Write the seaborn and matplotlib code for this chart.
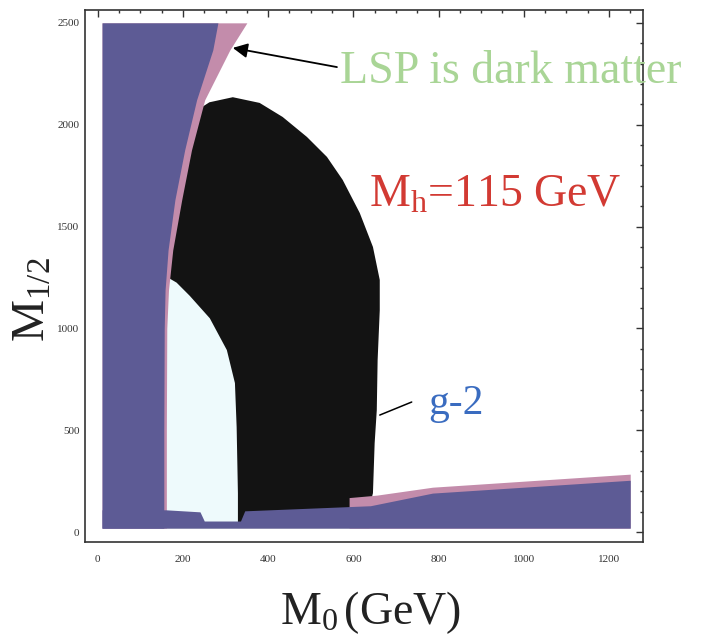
import matplotlib
matplotlib.use("Agg")
import matplotlib.pyplot as plt
from matplotlib.ticker import MultipleLocator
import seaborn as sns

# ---- scan domain (GeV) ----
m0_range = [10, 1250]
m12_range = [20, 2500]

# ---- excluded wedge at low M0 (purple) and the dark-matter strip beside it (pink) ----
edge_m12 = [20, 500, 1000, 1189, 1385, 1631, 1876, 2122, 2367, 2500]
purple_edge_m0 = [155, 155, 156, 158, 165, 181, 204, 232, 270, 282]
pink_edge_m0 = [161, 161, 162, 166, 176, 197, 220, 251, 310, 350]

# ---- g-2 favoured region (black), outline traced clockwise ----
g2_m0 = [150, 150, 190, 225, 262, 317, 380, 434, 491, 538, 575, 615, 646, 662,
         662, 657, 655, 650, 646, 638, 638]
g2_m12 = [20, 1700, 1950, 2060, 2110, 2135, 2107, 2038, 1940, 1842, 1729, 1567,
          1400, 1238, 1090, 845, 599, 437, 192, 123, 20]

# ---- light region below the Higgs-mass bound ----
mh_m0 = [150, 150, 167, 185, 216, 263, 303, 322, 326, 329, 329]
mh_m12 = [20, 1240, 1247, 1225, 1160, 1050, 894, 732, 516, 191, 20]

# ---- excluded band at small M1/2 (purple) with dark-matter edge (pink) ----
band_m0 = [10, 160, 240, 250, 335, 345, 640, 786, 1250]
band_top = [110, 110, 100, 55, 55, 105, 130, 192, 255]
strip_m0 = [590, 655, 786, 1250]
strip_top = [170, 182, 221, 285]

# ---- axis ticks ----
x_ticks = [0, 200, 400, 600, 800, 1000, 1200]
y_ticks = [0, 500, 1000, 1500, 2000, 2500]

PURPLE = "#5d5b95"
PINK = "#c38cab"
BLACK = "#131313"
LIGHT = "#eefafc"

sns.set_theme(style="white")
plt.rcParams["font.family"] = ["Liberation Serif", "DejaVu Serif"]
plt.rcParams["mathtext.fontset"] = "custom"
plt.rcParams["mathtext.rm"] = "Liberation Serif"
plt.rcParams["mathtext.it"] = "Liberation Serif:italic"

fig = plt.figure(figsize=(7.1, 6.43), dpi=100)
ax = fig.add_axes([85 / 710, 1 - 542 / 643, (643 - 85) / 710, (542 - 10) / 643])

ax.fill(g2_m0, g2_m12, color=BLACK, lw=0, zorder=1)
ax.fill(mh_m0, mh_m12, color=LIGHT, lw=0, zorder=2)
ax.fill_between(strip_m0, m12_range[0], strip_top, color=PINK, lw=0, zorder=3)
ax.fill_betweenx(edge_m12, m0_range[0], pink_edge_m0, color=PINK, lw=0, zorder=3)
ax.fill_betweenx(edge_m12, m0_range[0], purple_edge_m0, color=PURPLE, lw=0, zorder=4)
ax.fill_between(band_m0, m12_range[0], band_top, color=PURPLE, lw=0, zorder=4)

ax.set_xlim(-30, 1280)
ax.set_ylim(-48, 2563)
ax.set_xticks(x_ticks)
ax.set_yticks(y_ticks)
ax.xaxis.set_minor_locator(MultipleLocator(50))
ax.yaxis.set_minor_locator(MultipleLocator(100))
ax.tick_params(which="both", direction="in", top=True, right=True,
               colors="#333333", labelsize=8, width=1)
ax.tick_params(which="major", length=5)
ax.tick_params(which="minor", length=2.5)
ax.tick_params(axis="x", pad=9)
ax.tick_params(axis="y", pad=4)
for s in ax.spines.values():
    s.set_color("#333333")
    s.set_linewidth(1.2)
    s.set_visible(True)
ax.grid(False)

ax.set_xlabel(r"$\mathrm{M}_0\,$(GeV)", fontsize=33, color="#222222")
ax.xaxis.set_label_coords(0.511, -0.088)
ax.set_ylabel(r"$\mathrm{M}_{1/2}$", fontsize=34, color="#222222")
ax.yaxis.set_label_coords(-0.055, 0.455)

ax.annotate("LSP is dark matter", xy=(317, 2377), xytext=(970, 2259),
            ha="center", va="center", fontsize=33, color="#a9d596",
            annotation_clip=False,
            arrowprops=dict(arrowstyle="-|>", color="black", lw=1.3,
                            mutation_scale=22, shrinkA=0, shrinkB=0,
                            relpos=(0, 0.6)))
ax.text(932, 1655, r"$\mathrm{M_h}$=115 GeV", ha="center", va="center",
        fontsize=33, color="#d23a33")
ax.text(840, 630, "g-2", ha="center", va="center", fontsize=30, color="#3a6cc0")
ax.plot([662, 737], [575, 639], color="black", lw=1.1, zorder=6)

fig.savefig("out.png", dpi=100)
